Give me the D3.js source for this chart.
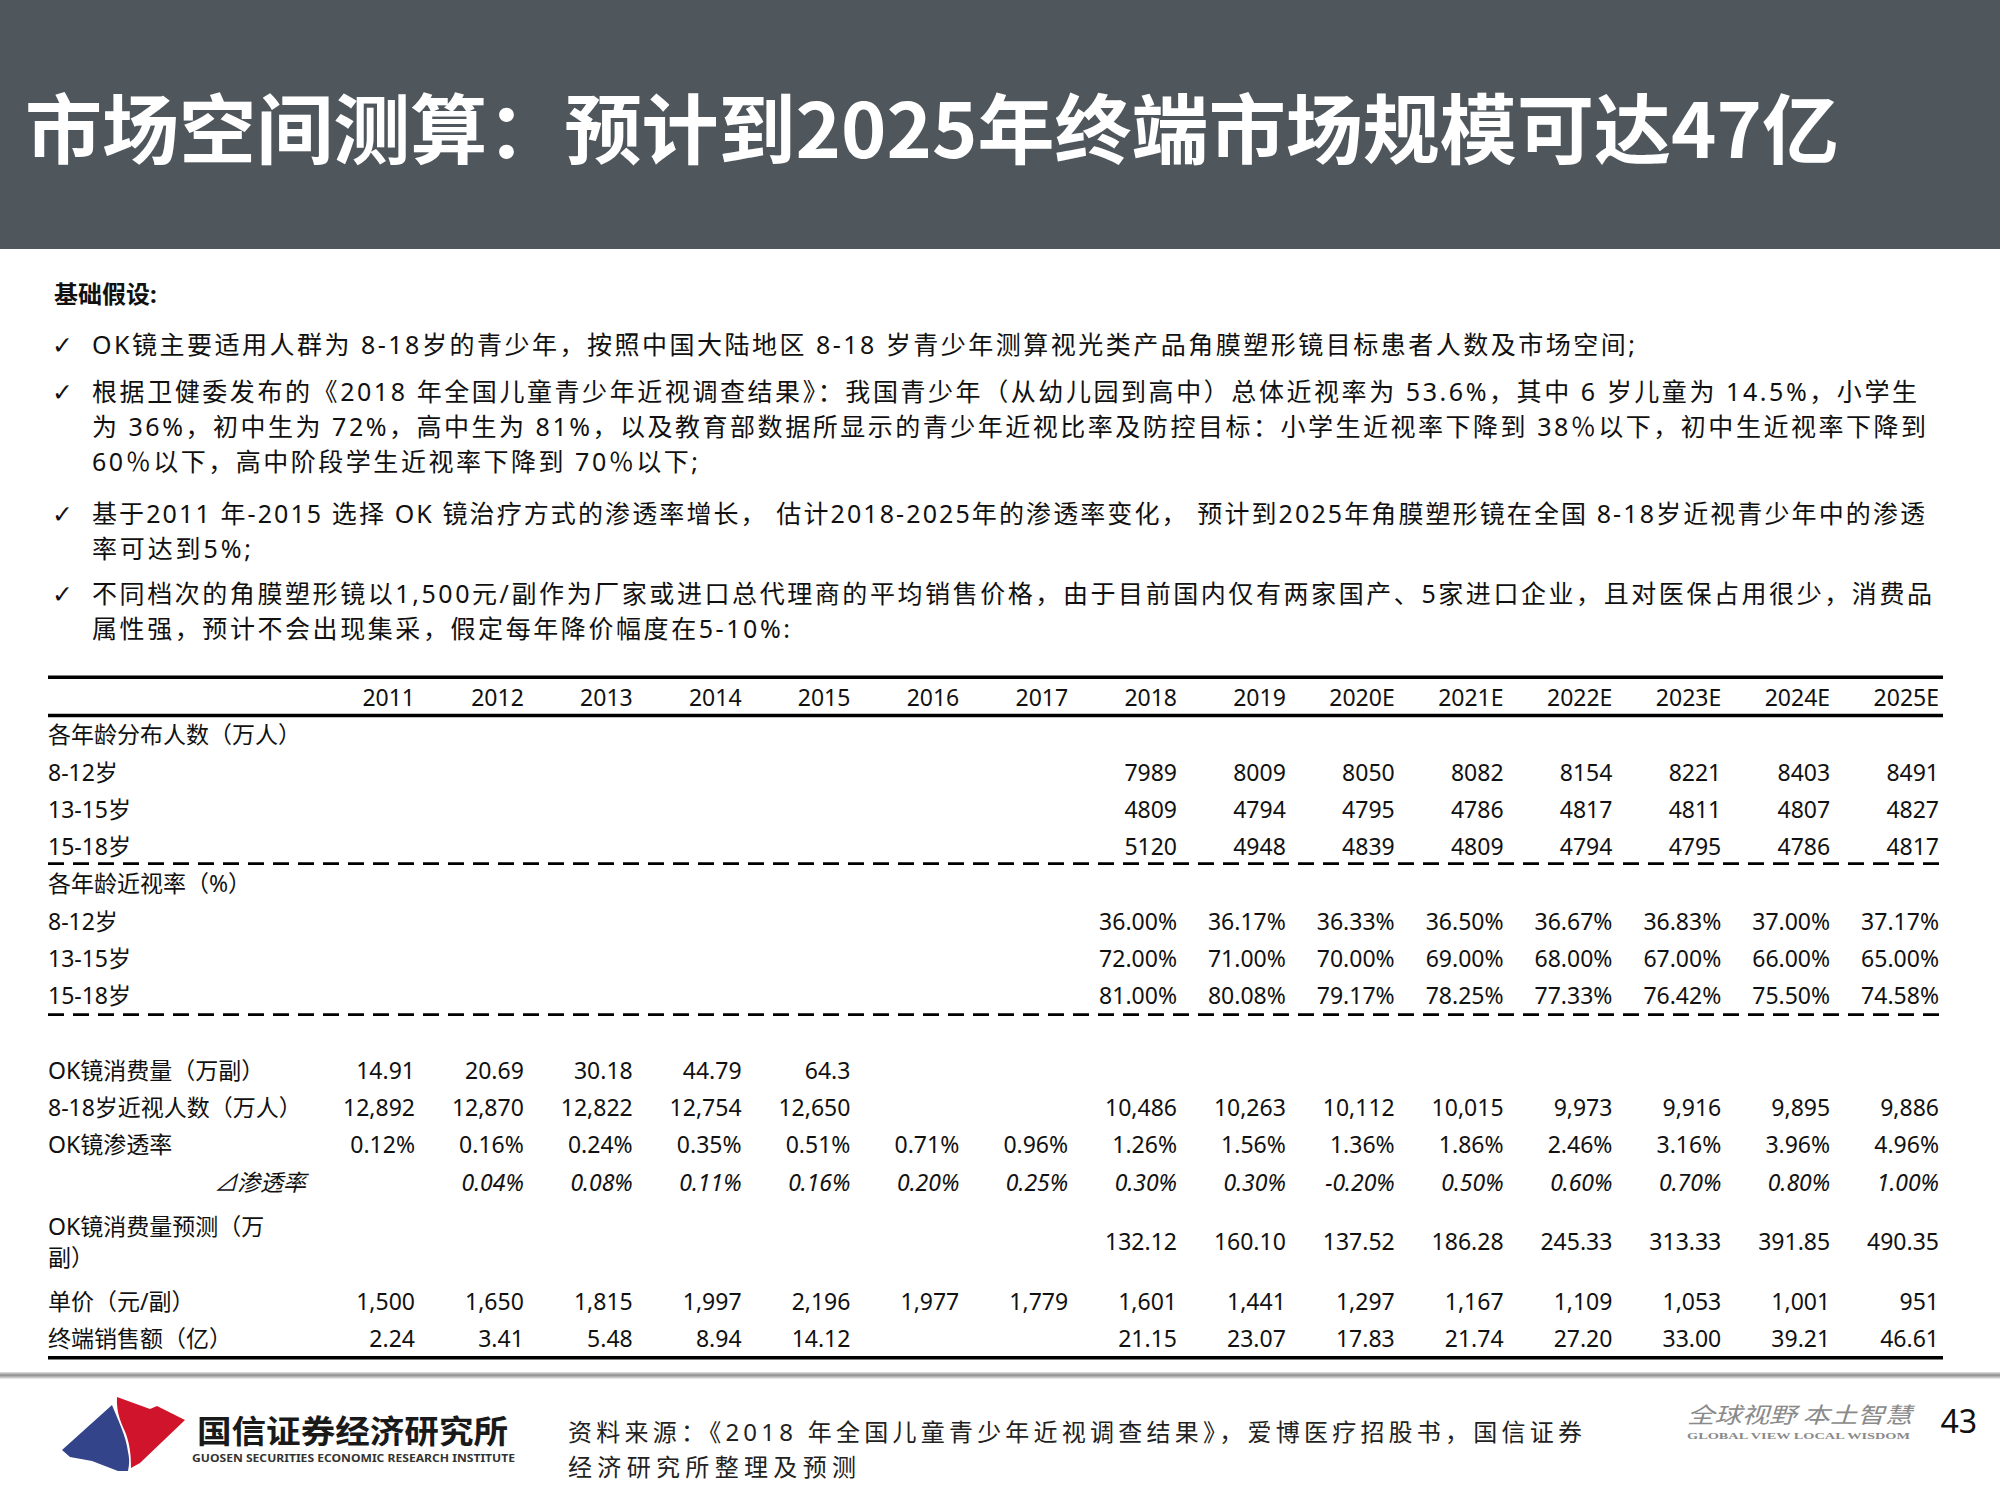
<!DOCTYPE html>
<html>
<head>
<meta charset="utf-8">
<script src="https://cdn.jsdelivr.net/npm/d3@7"></script>
<style>
  html, body { margin: 0; padding: 0; background: #fff; }
  svg { display: block; }
  text { font-family: "Noto Sans", "Noto Sans CJK SC", sans-serif; fill: #111; }
</style>
</head>
<body>
<svg id="chart" width="2000" height="1500"></svg>
<script>
const W = 2000, H = 1500;

// ---- data ----
const title = '市场空间测算：预计到2025年终端市场规模可达47亿';
const basicTitle = '基础假设:';

const bullets = [
  ['OK镜主要适用人群为 8-18岁的青少年，按照中国大陆地区 8-18 岁青少年测算视光类产品角膜塑形镜目标患者人数及市场空间;'],
  ['根据卫健委发布的《2018 年全国儿童青少年近视调查结果》：我国青少年（从幼儿园到高中）总体近视率为 53.6%，其中 6 岁儿童为 14.5%，小学生',
   '为 36%，初中生为 72%，高中生为 81%，以及教育部数据所显示的青少年近视比率及防控目标：小学生近视率下降到 38％以下，初中生近视率下降到',
   '60％以下，高中阶段学生近视率下降到 70％以下;'],
  ['基于2011 年-2015 选择 OK 镜治疗方式的渗透率增长， 估计2018-2025年的渗透率变化， 预计到2025年角膜塑形镜在全国 8-18岁近视青少年中的渗透',
   '率可达到5%;'],
  ['不同档次的角膜塑形镜以1,500元/副作为厂家或进口总代理商的平均销售价格，由于目前国内仅有两家国产、5家进口企业，且对医保占用很少，消费品',
   '属性强，预计不会出现集采，假定每年降价幅度在5-10%:']
];

const years = ['2011','2012','2013','2014','2015','2016','2017','2018','2019',
               '2020E','2021E','2022E','2023E','2024E','2025E'];

const popLabel = '各年龄分布人数（万人）';
const pop812  = ['','','','','','','', '7989','8009','8050','8082','8154','8221','8403','8491'];
const pop1315 = ['','','','','','','', '4809','4794','4795','4786','4817','4811','4807','4827'];
const pop1518 = ['','','','','','','', '5120','4948','4839','4809','4794','4795','4786','4817'];

const rateLabel = '各年龄近视率（%）';
const rate812  = ['','','','','','','', '36.00%','36.17%','36.33%','36.50%','36.67%','36.83%','37.00%','37.17%'];
const rate1315 = ['','','','','','','', '72.00%','71.00%','70.00%','69.00%','68.00%','67.00%','66.00%','65.00%'];
const rate1518 = ['','','','','','','', '81.00%','80.08%','79.17%','78.25%','77.33%','76.42%','75.50%','74.58%'];

const okUse      = ['14.91','20.69','30.18','44.79','64.3','','','','','','','','','',''];
const myopiaPop  = ['12,892','12,870','12,822','12,754','12,650','','', '10,486','10,263','10,112','10,015','9,973','9,916','9,895','9,886'];
const okPen      = ['0.12%','0.16%','0.24%','0.35%','0.51%','0.71%','0.96%','1.26%','1.56%','1.36%','1.86%','2.46%','3.16%','3.96%','4.96%'];
const okPenDelta = ['','0.04%','0.08%','0.11%','0.16%','0.20%','0.25%','0.30%','0.30%','-0.20%','0.50%','0.60%','0.70%','0.80%','1.00%'];
const okForecast = ['','','','','','','', '132.12','160.10','137.52','186.28','245.33','313.33','391.85','490.35'];
const unitPrice  = ['1,500','1,650','1,815','1,997','2,196','1,977','1,779','1,601','1,441','1,297','1,167','1,109','1,053','1,001','951'];
const sales      = ['2.24','3.41','5.48','8.94','14.12','','', '21.15','23.07','17.83','21.74','27.20','33.00','39.21','46.61'];

const sourceLines = ['资料来源：《2018 年全国儿童青少年近视调查结果》，爱博医疗招股书，国信证券',
                     '经济研究所整理及预测'];

// ---- table rows (label, values, slot, style) ----
const rows = [
  { label: [popLabel], values: null, slot: 0 },
  { label: ['8-12岁'], values: pop812, slot: 1 },
  { label: ['13-15岁'], values: pop1315, slot: 2 },
  { label: ['15-18岁'], values: pop1518, slot: 3 },
  { label: [rateLabel], values: null, slot: 4 },
  { label: ['8-12岁'], values: rate812, slot: 5 },
  { label: ['13-15岁'], values: rate1315, slot: 6 },
  { label: ['15-18岁'], values: rate1518, slot: 7 },
  { label: ['OK镜消费量（万副）'], values: okUse, slot: 9 },
  { label: ['8-18岁近视人数（万人）'], values: myopiaPop, slot: 10 },
  { label: ['OK镜渗透率'], values: okPen, slot: 11 },
  { label: ['⊿渗透率'], values: okPenDelta, slot: 12, italic: true, indent: 166 },
  { label: ['OK镜消费量预测（万', '副）'], values: okForecast, slot: 13.6 },
  { label: ['单价（元/副）'], values: unitPrice, slot: 15.2 },
  { label: ['终端销售额（亿）'], values: sales, slot: 16.2 }
];

const svg = d3.select('#chart');

// ---- header ----
svg.append('rect').attr('x', 0).attr('y', 0).attr('width', W).attr('height', 249)
  .attr('fill', '#4f575d');
svg.append('text')
  .attr('x', 25).attr('y', 131).attr('dy', '0.36em')
  .attr('textLength', 1814).attr('lengthAdjust', 'spacingAndGlyphs')
  .style('font-family', '"Noto Sans CJK SC", sans-serif')
  .style('font-weight', 700).style('font-size', '76px').style('fill', '#fff')
  .text(title);

// ---- assumptions ----
svg.append('text')
  .attr('x', 54).attr('y', 294).attr('dy', '0.36em')
  .style('font-weight', 700).style('font-size', '24px')
  .text(basicTitle);

const paraTop = [345, 392, 514, 594];
const lineGap = 35;
const lineWidths = [[1543], [1825, 1834, 606], [1833, 159], [1840, 698]];

bullets.forEach((lines, i) => {
  svg.append('text')
    .attr('x', 52).attr('y', paraTop[i]).attr('dy', '0.36em')
    .style('font-family', '"DejaVu Sans", sans-serif')
    .style('font-size', '25px').style('font-weight', 700)
    .text('✓');
  lines.forEach((ln, j) => {
    svg.append('text')
      .attr('x', 92).attr('y', paraTop[i] + j * lineGap).attr('dy', '0.36em')
      .attr('textLength', lineWidths[i][j]).attr('lengthAdjust', 'spacing')
      .style('font-size', '25px')
      .text(ln);
  });
});

// ---- table ----
const tableLeft = 48, tableRight = 1943;
const x = d3.scalePoint().domain(years).range([415, 1939]);
const y = d3.scaleLinear().domain([0, 16.2]).range([735, 1339]);

const rule = (yy, w, dash) => svg.append('line')
  .attr('x1', tableLeft).attr('x2', tableRight)
  .attr('y1', yy).attr('y2', yy)
  .attr('stroke', '#000').attr('stroke-width', w)
  .attr('stroke-dasharray', dash || null);

rule(y(-1.55), 3.5);
rule(y(-0.52), 3.5);
rule(y(3.45), 2.6, '16,9');
rule(y(7.5), 2.6, '16,9');
rule(y(16.7), 3.5);

const fs = '23px';

svg.append('g').selectAll('text').data(years).join('text')
  .attr('x', d => x(d)).attr('y', y(-1)).attr('dy', '0.36em')
  .attr('text-anchor', 'end')
  .style('font-size', fs)
  .text(d => d);

rows.forEach(r => {
  const g = svg.append('g');
  const n = r.label.length;
  r.label.forEach((lb, k) => {
    g.append('text')
      .attr('x', tableLeft + (r.indent || 0))
      .attr('y', y(r.slot) + (k - (n - 1) / 2) * 31)
      .attr('dy', '0.36em')
      .style('font-size', fs)
      .style('font-style', r.italic ? 'italic' : null)
      .text(lb);
  });
  if (!r.values) return;
  g.selectAll('text.v').data(r.values.map((v, i) => ({ v, yr: years[i] })).filter(d => d.v !== ''))
    .join('text')
    .attr('class', 'v')
    .attr('x', d => x(d.yr)).attr('y', y(r.slot)).attr('dy', '0.36em')
    .attr('text-anchor', 'end')
    .style('font-size', fs)
    .style('font-style', r.italic ? 'italic' : null)
    .text(d => d.v);
});

// ---- footer ----
const defs = svg.append('defs');
const grad = defs.append('linearGradient').attr('id', 'shade')
  .attr('x1', 0).attr('y1', 0).attr('x2', 0).attr('y2', 1);
grad.append('stop').attr('offset', '0%').attr('stop-color', '#e6e6e6');
grad.append('stop').attr('offset', '45%').attr('stop-color', '#8c8c8c');
grad.append('stop').attr('offset', '100%').attr('stop-color', '#f2f2f2');
svg.append('rect').attr('x', 0).attr('y', 1372).attr('width', W).attr('height', 7)
  .attr('fill', 'url(#shade)');

// logo mark
svg.append('path')
  .attr('d', 'M62,1450 L112,1405 C118,1420 126,1436 128,1452 C130,1460 129,1466 128,1471 L118,1471 L92,1461 L70,1457 Z')
  .attr('fill', '#34448a');
svg.append('path')
  .attr('d', 'M117,1397 L150,1409 L157,1406 L185,1420 L140,1463 L131,1468 C131,1455 130,1446 126,1434 C122,1424 116,1414 117,1397 Z')
  .attr('fill', '#d0142c');

svg.append('text')
  .attr('x', 197).attr('y', 1431).attr('dy', '0.36em')
  .attr('textLength', 311).attr('lengthAdjust', 'spacingAndGlyphs')
  .style('font-family', '"Noto Sans CJK SC", sans-serif')
  .style('font-weight', 700).style('font-size', '32px').style('fill', '#1a1a1a')
  .text('国信证券经济研究所');
svg.append('text')
  .attr('x', 192).attr('y', 1458).attr('dy', '0.36em')
  .attr('textLength', 323).attr('lengthAdjust', 'spacingAndGlyphs')
  .style('font-weight', 700).style('font-size', '10px').style('fill', '#333')
  .text('GUOSEN SECURITIES ECONOMIC RESEARCH INSTITUTE');

svg.append('g').selectAll('text').data(sourceLines).join('text')
  .attr('x', 568).attr('y', (d, i) => 1432 + i * 35).attr('dy', '0.36em')
  .attr('textLength', (d, i) => i === 0 ? 1014 : 288).attr('lengthAdjust', 'spacing')
  .style('font-size', '24px').style('fill', '#222')
  .text(d => d);

svg.append('text')
  .attr('x', 1687).attr('y', 1415).attr('dy', '0.36em')
  .attr('textLength', 225).attr('lengthAdjust', 'spacingAndGlyphs')
  .style('font-family', '"Noto Sans CJK SC", serif')
  .style('font-size', '22px').style('font-style', 'italic').style('fill', '#8a8a8a')
  .text('全球视野  本土智慧');
svg.append('text')
  .attr('x', 1687).attr('y', 1436).attr('dy', '0.36em')
  .attr('textLength', 223).attr('lengthAdjust', 'spacingAndGlyphs')
  .style('font-family', '"Liberation Serif", serif')
  .style('font-weight', 700).style('font-size', '9px').style('fill', '#8a8a8a')
  .text('GLOBAL VIEW   LOCAL WISDOM');

svg.append('text')
  .attr('x', 1977).attr('y', 1421).attr('dy', '0.36em')
  .attr('text-anchor', 'end')
  .style('font-size', '32px').style('fill', '#111')
  .text('43');
</script>
</body>
</html>
